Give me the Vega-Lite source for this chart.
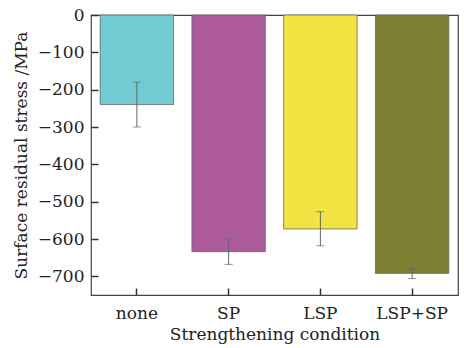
{
  "$schema": "https://vega.github.io/schema/vega-lite/v6.json",
  "autosize": "none",
  "width": 367,
  "height": 280,
  "padding": {"left": 91, "top": 15, "right": 6, "bottom": 53},
  "background": "white",
  "config": {
    "view": {"stroke": "#444", "strokeWidth": 1.2},
    "font": "DejaVu Serif",
    "axis": {
      "grid": false,
      "domain": false,
      "ticks": true,
      "tickColor": "#333",
      "tickWidth": 1.5,
      "tickSize": 7,
      "offset": -7,
      "zindex": 2,
      "labelFont": "DejaVu Serif",
      "titleFont": "DejaVu Serif",
      "labelColor": "#222",
      "titleColor": "#222",
      "titleFontWeight": "normal",
      "labelFontSize": 17,
      "titleFontSize": 17,
      "labelOverlap": false,
      "labelFlush": false
    }
  },
  "data": {
    "values": [
      {"condition": "none", "stress": -240, "lo": -300, "hi": -180},
      {"condition": "SP", "stress": -634, "lo": -668, "hi": -599},
      {"condition": "LSP", "stress": -573, "lo": -618, "hi": -527},
      {"condition": "LSP+SP", "stress": -692, "lo": -706, "hi": -679}
    ]
  },
  "encoding": {
    "x": {
      "field": "condition",
      "type": "nominal",
      "sort": ["none", "SP", "LSP", "LSP+SP"],
      "scale": {"paddingInner": 0.2, "paddingOuter": 0.1},
      "axis": {
        "title": "Strengthening condition",
        "labelAngle": 0,
        "labelPadding": 10,
        "titlePadding": 5
      }
    }
  },
  "layer": [
    {
      "mark": {"type": "bar", "stroke": "#666", "strokeWidth": 0.8},
      "encoding": {
        "y": {
          "field": "stress",
          "type": "quantitative",
          "scale": {"domain": [-750, 0], "nice": false},
          "axis": {
            "title": "Surface residual stress /MPa",
            "values": [0, -100, -200, -300, -400, -500, -600, -700],
            "labelPadding": 7,
            "titlePadding": 7
          }
        },
        "color": {
          "field": "condition",
          "type": "nominal",
          "scale": {
            "domain": ["none", "SP", "LSP", "LSP+SP"],
            "range": ["#72CBD3", "#AD5A9C", "#F2E443", "#7E7E33"]
          },
          "legend": null
        }
      }
    },
    {
      "mark": {"type": "rule", "color": "#666", "strokeWidth": 1},
      "encoding": {
        "y": {
          "field": "lo",
          "type": "quantitative",
          "axis": {
            "title": "Surface residual stress /MPa",
            "values": [0, -100, -200, -300, -400, -500, -600, -700],
            "labelPadding": 7,
            "titlePadding": 7
          }
        },
        "y2": {"field": "hi"}
      }
    },
    {
      "mark": {"type": "tick", "color": "#666", "size": 8, "thickness": 1},
      "encoding": {
        "y": {
          "field": "lo",
          "type": "quantitative",
          "axis": {
            "title": "Surface residual stress /MPa",
            "values": [0, -100, -200, -300, -400, -500, -600, -700],
            "labelPadding": 7,
            "titlePadding": 7
          }
        }
      }
    },
    {
      "mark": {"type": "tick", "color": "#666", "size": 8, "thickness": 1},
      "encoding": {
        "y": {
          "field": "hi",
          "type": "quantitative",
          "axis": {
            "title": "Surface residual stress /MPa",
            "values": [0, -100, -200, -300, -400, -500, -600, -700],
            "labelPadding": 7,
            "titlePadding": 7
          }
        }
      }
    }
  ]
}
